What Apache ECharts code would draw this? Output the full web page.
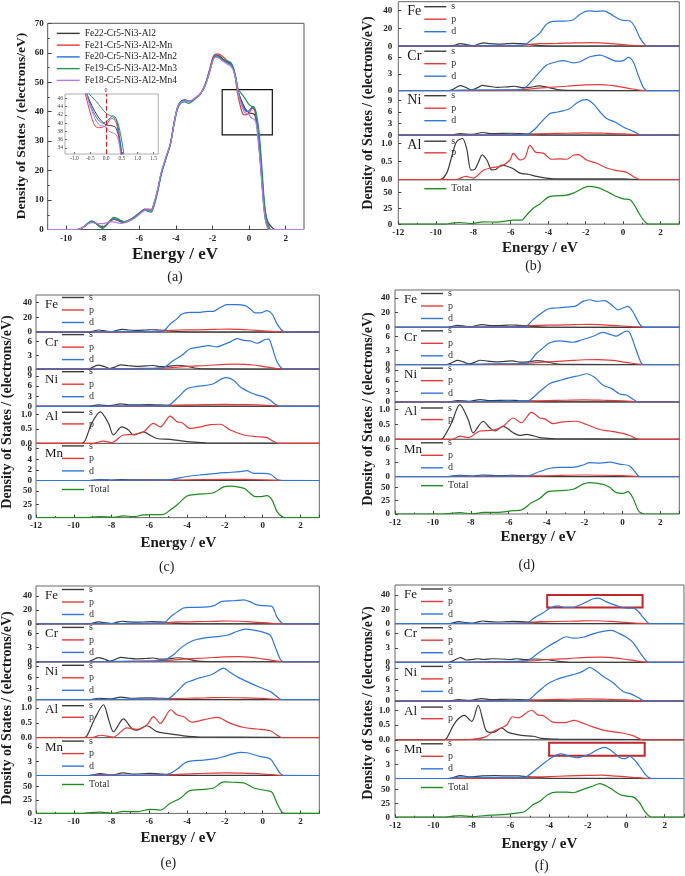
<!DOCTYPE html>
<html>
<head>
<meta charset="utf-8">
<script src="https://cdn.jsdelivr.net/npm/echarts@6/dist/echarts.min.js"></script>
<style>
  html, body { margin: 0; background: #fff; }
  #chart { width: 685px; height: 876px; }
</style>
</head>
<body>
<div id="chart"></div>
<script>
const FONT = 'Liberation Serif';
const COL = { s: '#3c3c3c', p: '#e8393a', d: '#2f76dc', Total: '#1e8c1e' };

// ---- panel (a): total DOS of the five alloys ----
const namesA = ['Fe22-Cr5-Ni3-Al2', 'Fe21-Cr5-Ni3-Al2-Mn', 'Fe20-Cr5-Ni3-Al2-Mn2', 'Fe19-Cr5-Ni3-Al2-Mn3', 'Fe18-Cr5-Ni3-Al2-Mn4'];
const colorsA = ['#3a3a3a', '#e23b3b', '#2a6fe0', '#23965a', '#b37ae8'];
const xTicksA = [-10, -8, -6, -4, -2, 0, 2];
const insetXTicks = [-1, -0.5, 0, 0.5, 1, 1.5];
const insetYTicks = [34, 36, 38, 40, 42, 44, 46];
const boxA = [[-1.47, 32.1], [1.27, 47.5]];

const a_fe22 = [[-11,0],[-9.4,0],[-9.2,0.3],[-9,1],[-8.8,2],[-8.6,2.6],[-8.4,2.2],[-8.2,1.2],[-8,0.5],[-7.8,1.4],[-7.6,2.8],[-7.4,3.4],[-7.2,3.2],[-7,2.6],[-6.8,2.4],[-6.5,3.1],[-6.2,4.4],[-5.9,5.9],[-5.7,6.7],[-5.5,6.6],[-5.35,6.4],[-5.2,8.5],[-5,13],[-4.8,19],[-4.5,25],[-4.3,29],[-4.1,36],[-3.9,41.5],[-3.7,43.5],[-3.5,44],[-3.3,43.6],[-3.1,43.8],[-2.9,44.8],[-2.7,45.7],[-2.4,49],[-2.15,54],[-1.95,58.5],[-1.8,59.3],[-1.6,58.8],[-1.4,57.7],[-1.2,57],[-1,56.2],[-0.85,54.5],[-0.7,50.5],[-0.6,47],[-0.4,43.5],[-0.2,41],[0,39.6],[0.15,39.4],[0.3,39],[0.42,36],[0.5,32],[0.6,26],[0.7,18.5],[0.8,10.5],[0.9,5.5],[1,3],[1.1,1.8],[1.25,0.7],[1.4,0],[3,0]];
const a_fe21 = [[-11,0],[-9.4,0],[-9.2,0.3],[-9,1],[-8.8,2],[-8.6,2.6],[-8.4,2.2],[-8.2,1.4],[-8,0.9],[-7.8,1.6],[-7.6,2.8],[-7.4,3.5],[-7.2,3.3],[-7,2.8],[-6.8,2.7],[-6.5,3.4],[-6.2,4.6],[-5.9,6.1],[-5.7,6.9],[-5.5,6.9],[-5.35,6.8],[-5.2,8.8],[-5,13.5],[-4.8,19],[-4.5,25],[-4.3,29],[-4.1,36],[-3.9,41.5],[-3.7,43.3],[-3.5,43.8],[-3.3,43.5],[-3.1,43.8],[-2.9,44.8],[-2.7,45.7],[-2.4,49.2],[-2.15,54.5],[-1.95,58.8],[-1.75,59.6],[-1.55,59.2],[-1.35,58.2],[-1.2,57.3],[-1,56.5],[-0.85,54.5],[-0.75,51.5],[-0.65,47],[-0.5,42.5],[-0.35,39.3],[-0.2,38.9],[0,39.5],[0.17,41.2],[0.3,40.5],[0.4,37],[0.5,31],[0.6,24],[0.7,16],[0.8,8.5],[0.9,3.5],[1,1.5],[1.15,0],[3,0]];
const a_fe20 = [[-11,0],[-9.4,0],[-9.2,0.3],[-9,1],[-8.8,2.1],[-8.6,2.7],[-8.4,2.3],[-8.2,1.3],[-8,0.6],[-7.8,1.5],[-7.6,2.9],[-7.4,3.7],[-7.2,3.4],[-7,2.8],[-6.8,2.6],[-6.5,3.3],[-6.2,4.6],[-5.9,6],[-5.7,6.8],[-5.5,6.6],[-5.35,6.3],[-5.2,8.3],[-5,13],[-4.8,19],[-4.5,25],[-4.3,29],[-4.1,36],[-3.9,41.8],[-3.7,43.6],[-3.5,43.9],[-3.3,43.3],[-3.1,43.6],[-2.9,44.7],[-2.7,45.7],[-2.4,49],[-2.15,54],[-1.95,58.3],[-1.8,59],[-1.6,58.5],[-1.4,57.3],[-1.2,56.6],[-1,55.9],[-0.85,54.3],[-0.7,50.3],[-0.6,47],[-0.45,43.5],[-0.25,40.8],[-0.1,40],[0.05,40.7],[0.22,41.8],[0.32,41],[0.42,37],[0.5,32],[0.6,25],[0.7,16.5],[0.8,8],[0.9,3],[1,1],[1.1,0],[3,0]];
const a_fe19 = [[-11,0],[-9.4,0],[-9.2,0.3],[-9,1.1],[-8.8,2.2],[-8.6,2.9],[-8.4,2.4],[-8.2,1.2],[-8,0.4],[-7.8,1.4],[-7.6,3],[-7.4,4.1],[-7.2,3.8],[-7,3],[-6.8,2.6],[-6.5,3.3],[-6.2,4.5],[-5.9,5.9],[-5.7,6.6],[-5.5,6.1],[-5.35,5.9],[-5.2,7.8],[-5,12.5],[-4.8,18.5],[-4.5,25],[-4.3,29],[-4.1,35.5],[-3.9,41],[-3.7,43],[-3.5,43.3],[-3.3,42.8],[-3.1,43.5],[-2.9,44.7],[-2.7,45.8],[-2.4,49],[-2.15,53.5],[-1.95,58],[-1.85,58.8],[-1.6,58.3],[-1.4,57.5],[-1.2,57.2],[-1,56.7],[-0.85,54.8],[-0.7,51],[-0.6,47.8],[-0.3,45.2],[0,42.4],[0.2,41.6],[0.35,40.5],[0.45,37.5],[0.55,33],[0.65,25.5],[0.75,16.5],[0.85,8.5],[0.95,3.8],[1.05,1.6],[1.2,0],[3,0]];
const a_fe18 = [[-11,0],[-9.4,0],[-9.2,0.3],[-9,1],[-8.8,1.9],[-8.6,2.3],[-8.4,2.2],[-8.2,2],[-8,2],[-7.8,2.3],[-7.6,2.6],[-7.4,2.6],[-7.2,2.3],[-7,2.1],[-6.8,2.3],[-6.5,3],[-6.2,4.1],[-5.9,5.6],[-5.7,6.5],[-5.5,6.7],[-5.35,6.6],[-5.2,8.8],[-5,13.5],[-4.8,19.5],[-4.5,25.5],[-4.3,29],[-4.1,36],[-3.9,41.5],[-3.7,43.3],[-3.5,43.6],[-3.3,43.5],[-3.1,44],[-2.9,45],[-2.7,45.8],[-2.4,48.8],[-2.15,53.5],[-1.95,57.8],[-1.8,58.5],[-1.6,58],[-1.4,57],[-1.2,56.2],[-1,55.5],[-0.85,53.8],[-0.7,50],[-0.6,46.5],[-0.45,43],[-0.25,39.8],[0,39],[0.1,38],[0.3,37.3],[0.4,35.5],[0.48,31],[0.6,23.5],[0.7,15.5],[0.8,8],[0.9,3],[1,0.8],[1.05,0],[3,0]];
const dataA = [a_fe22, a_fe21, a_fe20, a_fe19, a_fe18];

// ---- partial DOS, small s / p curves shared by panels (b)-(f) ----
const feS = [[-12,0],[-9.3,0],[-9,1],[-8.7,2.8],[-8.3,1.5],[-8,0.5],[-7.7,2.5],[-7.45,3.8],[-7.1,2.8],[-6.7,2.4],[-6.2,2.8],[-5.9,3.2],[-5.5,2.8],[-5.1,2.2],[-4.7,1.2],[-4.2,0.4],[-3.5,0.1],[3,0]];
const feP = [[-12,0],[-9,0],[-7,0.3],[-5.6,1],[-5,2],[-4.5,2.8],[-3.5,3.1],[-2.5,3.7],[-1.8,4.1],[-1.2,3.8],[-0.6,2.8],[0,1.8],[0.5,0.9],[1,0.2],[1.3,0],[3,0]];
const crS = [[-12,0],[-9.3,0],[-9,0.4],[-8.7,0.9],[-8.4,0.6],[-8.1,0.15],[-7.8,0.5],[-7.5,0.95],[-7.1,0.75],[-6.7,0.6],[-6.2,0.7],[-5.8,0.8],[-5.4,0.55],[-5,0.6],[-4.5,0.85],[-4,0.6],[-3.5,0.2],[-3,0.05],[3,0]];
const crP = [[-12,0],[-8,0],[-6,0.1],[-5,0.3],[-4,0.6],[-3,0.8],[-2,1.05],[-1.3,1.1],[-0.5,0.9],[0,0.6],[0.5,0.3],[1,0.05],[1.2,0],[3,0]];
const niS = [[-12,0],[-9.2,0],[-8.7,0.4],[-8.1,0.2],[-7.5,0.7],[-7,0.4],[-6,0.5],[-5.5,0.4],[-5,0.3],[-4.5,0.15],[-4,0.05],[3,0]];
const niP = [[-12,0],[-8,0],[-6,0.1],[-5,0.25],[-4,0.4],[-3,0.5],[-2,0.6],[-1,0.5],[0,0.35],[0.7,0.1],[1,0],[3,0]];
const f_crS = [[-12,0],[-9.2,0],[-8.9,0.5],[-8.6,1],[-8.3,0.5],[-8,0.6],[-7.7,0.75],[-7.4,0.6],[-7,0.75],[-6.5,0.7],[-6,0.6],[-5.7,0.75],[-5.3,0.6],[-4.7,0.7],[-4.2,0.6],[-3.5,0.2],[-3,0.05],[3,0]];

// ---- panel (b) ----
const b_feD = [[-12,0],[-9.3,0],[-8.7,0.4],[-8,0.2],[-7.5,0.6],[-6.5,0.5],[-5.8,0.7],[-5.3,1.2],[-4.9,7],[-4.45,14.7],[-4.1,24.5],[-3.75,27.8],[-3,28.3],[-2.65,29.8],[-2.3,35.8],[-1.86,39.6],[-1.41,39.2],[-1.06,39.6],[-0.7,36.6],[-0.26,30.9],[0,29.1],[0.37,28.3],[0.63,21.5],[0.9,9.4],[1.17,1.5],[1.35,0],[3,0]];
const b_crD = [[-12,0],[-9.3,0],[-8.7,0.1],[-7.5,0.15],[-6,0.15],[-5.35,0.3],[-4.62,2.75],[-4.08,4.6],[-3.55,5.2],[-3.19,5.4],[-2.66,5],[-2.3,5.2],[-1.77,6.1],[-1.23,6.4],[-0.88,6],[-0.35,5.3],[0.01,5.4],[0.28,6],[0.54,5.2],[0.81,2.75],[1.08,0.6],[1.26,0],[3,0]];
const b_niD = [[-12,0],[-9.3,0],[-8,0.1],[-6,0.1],[-5.15,0.2],[-4.62,2],[-4.44,3],[-3.9,5.6],[-3.5,6],[-3.2,6.3],[-2.84,6.9],[-2.4,8.6],[-1.95,9.2],[-1.59,8.1],[-1.23,6],[-0.88,4.3],[-0.43,3.4],[0.01,2.1],[0.54,1],[0.99,0],[3,0]];
const b_alS = [[-12,0],[-9.8,0],[-9.42,0.18],[-9.15,0.63],[-8.89,1.04],[-8.58,1.13],[-8.35,0.85],[-8.12,0.26],[-7.95,0.27],[-7.73,0.47],[-7.52,0.68],[-7.25,0.52],[-7.02,0.27],[-6.8,0.28],[-6.48,0.4],[-6.2,0.37],[-5.86,0.3],[-5.5,0.18],[-5.06,0.15],[-4.62,0.09],[-4.1,0.045],[-3.4,0.02],[0,0.02],[0.6,0.01],[1,0],[3,0]];
const b_alP = [[-12,0],[-9,0],[-8.8,0.02],[-8.4,0.09],[-8,0.045],[-7.46,0.26],[-7,0.33],[-6.48,0.38],[-6.04,0.54],[-5.86,0.72],[-5.5,0.54],[-5.24,0.6],[-4.97,0.94],[-4.65,0.75],[-4.26,0.73],[-3.82,0.56],[-3.37,0.57],[-3.01,0.56],[-2.66,0.67],[-2.39,0.69],[-1.95,0.54],[-1.41,0.45],[-0.88,0.32],[-0.35,0.25],[0.19,0.2],[0.54,0.09],[0.81,0.02],[1,0],[3,0]];
const b_tot = [[-12,0],[-9.5,0],[-9.06,2],[-8.7,2.7],[-8.09,1],[-7.46,3.7],[-6.75,3.2],[-6.2,5.3],[-5.86,6.4],[-5.42,6.4],[-5.15,14.4],[-4.8,25],[-4.44,31.9],[-4,42.6],[-3.64,44.7],[-3.1,45.2],[-2.66,48.9],[-2.3,54.3],[-1.86,59.6],[-1.41,58],[-1.06,54.3],[-0.7,48.9],[-0.35,43.6],[0.01,39.9],[0.37,38.3],[0.63,28.7],[0.9,14.4],[1.17,3.7],[1.35,0],[3,0]];

// ---- panel (c) ----
const c_feD = [[-12,0],[-9.3,0],[-8.7,0.4],[-7.5,0.6],[-6,0.6],[-5.3,1],[-4.89,11],[-4.54,17.8],[-4.27,24.4],[-3.83,26.5],[-3.3,26.7],[-2.95,28],[-2.6,28],[-2.24,33.3],[-1.89,36.9],[-1.36,36.9],[-0.92,35.6],[-0.65,31.1],[-0.39,25.8],[-0.12,25.8],[0.23,28.9],[0.5,24.4],[0.76,11.1],[1.03,2.2],[1.2,0],[3,0]];
const c_crD = [[-12,0],[-9.3,0],[-7,0.15],[-5.3,0.3],[-4.72,1.9],[-4.28,3],[-3.83,4.4],[-3.3,4.8],[-2.86,5.1],[-2.42,4.8],[-2.07,5.3],[-1.71,5.9],[-1.36,6.6],[-1,6.2],[-0.65,6.1],[-0.3,5.6],[0.14,6.4],[0.32,6.5],[0.5,4.8],[0.76,1.6],[1.03,0.1],[1.15,0],[3,0]];
const c_niD = [[-12,0],[-9.3,0],[-7,0.1],[-5.07,0.15],[-4.54,2.3],[-4,5.2],[-3.48,5.9],[-3,6.2],[-2.6,6.7],[-2.15,8.2],[-1.89,8.5],[-1.54,7.7],[-1.18,5.7],[-0.74,4.3],[-0.3,3.3],[0.06,2.8],[0.41,1.8],[0.67,0.6],[0.94,0],[3,0]];
const c_alS = [[-12,0],[-9.6,0],[-9.4,0.1],[-9.05,0.69],[-8.6,1.09],[-8.16,0.69],[-7.9,0.29],[-7.46,0.57],[-7.1,0.46],[-6.84,0.29],[-6.3,0.4],[-5.95,0.28],[-5.6,0.17],[-4.89,0.14],[-4,0.06],[-3,0.02],[0.5,0.01],[1,0],[3,0]];
const c_alP = [[-12,0],[-9,0],[-8.43,0.08],[-7.99,0.03],[-7.37,0.29],[-6.84,0.31],[-6.3,0.4],[-5.78,0.69],[-5.42,0.57],[-4.89,0.94],[-4.54,0.75],[-4.27,0.71],[-3.83,0.52],[-3.3,0.57],[-2.77,0.65],[-2.24,0.66],[-1.71,0.46],[-1,0.29],[-0.3,0.23],[0.23,0.2],[0.59,0.06],[0.85,0],[3,0]];
const c_mnS = [[-12,0],[-9.2,0],[-8.6,0.15],[-8,0.05],[-7.5,0.15],[-6.5,0.1],[-5.8,0.12],[-5,0.08],[-4,0.02],[3,0]];
const c_mnP = [[-12,0],[-7,0],[-5,0.05],[-3.5,0.15],[-2,0.2],[-1,0.2],[0,0.12],[0.8,0.02],[1,0],[3,0]];
const c_mnD = [[-12,0],[-9.3,0],[-8.6,0.1],[-7,0.05],[-5.07,0.1],[-4,0.75],[-3.3,1.05],[-2.42,1.36],[-1.89,1.5],[-1.18,1.67],[-0.83,1.86],[-0.47,1.36],[0.06,1.36],[0.41,1.17],[0.76,0.25],[1.03,0],[3,0]];
const c_tot = [[-12,0],[-9.5,0],[-8.6,1.9],[-7.9,0.6],[-7.37,3.1],[-6.84,1.9],[-6.3,5],[-5.25,6.2],[-4.89,14.4],[-4.54,23.8],[-4,40.6],[-3.48,43.8],[-2.6,46.9],[-2.07,58],[-1.71,59.4],[-1.18,56.9],[-0.92,53.8],[-0.65,45.6],[-0.39,39.4],[-0.12,39.4],[0.23,41.3],[0.5,33.1],[0.76,11.3],[1.03,1.9],[1.2,0],[3,0]];

// ---- panel (d) ----
const d_feD = [[-12,0],[-9.3,0],[-8.7,0.4],[-7.5,0.6],[-6,0.6],[-5.15,1],[-4.71,10.5],[-4.27,19.5],[-3.92,25],[-3.48,26.4],[-2.96,27.7],[-2.52,28.6],[-2.08,35.5],[-1.73,37.7],[-1.37,35.5],[-0.94,36.4],[-0.58,30.9],[-0.23,24],[0.03,26.4],[0.29,28.6],[0.56,20.9],[0.82,8.2],[1,1.4],[1.17,0],[3,0]];
const d_crD = [[-12,0],[-9.3,0],[-7,0.15],[-5.06,0.3],[-4.54,2.4],[-4.27,3.3],[-3.83,4.7],[-3.3,5.1],[-2.6,4.8],[-2.08,5.4],[-1.55,6.1],[-1.02,6.9],[-0.67,6.5],[-0.32,6.1],[0.21,7.2],[0.38,6.9],[0.65,4],[0.91,1.1],[1.08,0],[3,0]];
const d_niD = [[-12,0],[-9.3,0],[-7,0.1],[-5.06,0.2],[-4.36,3],[-3.83,5.3],[-3.3,6.2],[-2.78,7],[-2.25,7.6],[-1.9,8.1],[-1.46,7],[-1.02,4.8],[-0.58,3.9],[-0.15,2.3],[0.21,2],[0.56,0.8],[0.82,0],[3,0]];
const d_alS = [[-12,0],[-9.6,0],[-9.45,0.05],[-9.01,0.56],[-8.58,1.17],[-8.14,0.67],[-7.87,0.22],[-7.35,0.61],[-7,0.39],[-6.73,0.28],[-6.29,0.44],[-5.76,0.22],[-5.41,0.13],[-5.06,0.17],[-4.36,0.06],[-3.48,0.02],[0.5,0.01],[1,0],[3,0]];
const d_alP = [[-12,0],[-9,0],[-8.58,0.11],[-8.14,0.06],[-7.52,0.28],[-6.82,0.31],[-6.29,0.44],[-5.76,0.72],[-5.33,0.56],[-4.8,0.91],[-4.36,0.72],[-4.1,0.69],[-3.66,0.53],[-3.13,0.59],[-2.43,0.61],[-1.9,0.5],[-1.2,0.33],[-0.67,0.28],[0.03,0.2],[0.38,0.13],[0.73,0.02],[0.91,0],[3,0]];
const d_mnS = [[-12,0],[-9.2,0],[-8.6,0.3],[-8,0.1],[-7.4,0.35],[-6.5,0.2],[-5.8,0.3],[-5,0.15],[-4,0.05],[3,0]];
const d_mnP = [[-12,0],[-7,0],[-5,0.1],[-3.5,0.25],[-2,0.35],[-1,0.3],[0,0.2],[0.8,0.03],[1,0],[3,0]];
const d_mnD = [[-12,0],[-9.3,0],[-8.6,0.15],[-7,0.1],[-5.06,0.15],[-4.36,1.1],[-3.83,1.8],[-3.3,2],[-2.6,2],[-2.08,2.5],[-1.73,3],[-1.2,2.9],[-0.67,3.1],[-0.15,2.7],[0.38,2.3],[0.65,1.1],[0.91,0],[3,0]];
const d_tot = [[-12,0],[-9.5,0],[-8.58,2.5],[-7.87,0.3],[-7.35,3.1],[-6.64,3.1],[-5.76,6.2],[-5.33,7.5],[-4.8,21],[-4.36,29],[-3.92,42],[-3.3,43.8],[-2.6,46.3],[-2.08,56],[-1.73,58.8],[-1.02,55.6],[-0.67,50],[-0.32,40],[0.03,38.8],[0.29,41.9],[0.56,29.4],[0.82,7.5],[1,1.2],[1.17,0],[3,0]];

// ---- panel (e) ----
const e_feD = [[-12,0],[-9.3,0],[-8.7,0.4],[-7.5,0.6],[-6,0.6],[-5.25,1],[-4.9,9.6],[-4.45,18.3],[-4.19,22.6],[-3.74,23.5],[-3.13,23.9],[-2.6,25.7],[-2.15,32.2],[-1.53,33],[-1,34.3],[-0.65,31.3],[-0.3,27],[0.23,25.7],[0.5,24.8],[0.76,9.6],[1.03,0.9],[1.2,0],[3,0]];
const e_crD = [[-12,0],[-9.3,0],[-7,0.15],[-5.25,0.3],[-4.72,1.5],[-4.28,3.1],[-3.74,4.4],[-3.13,5],[-2.42,5.3],[-1.89,5.6],[-1.36,6.4],[-0.92,6.9],[-0.47,6.7],[0.06,6.2],[0.41,5.6],[0.67,3.1],[0.94,0.5],[1.12,0],[3,0]];
const e_niD = [[-12,0],[-9.3,0],[-7,0.1],[-5.07,0.2],[-4.54,2.2],[-4.1,4.5],[-3.74,5.2],[-3.3,6],[-2.77,6.7],[-2.5,7.4],[-2.07,8.6],[-1.71,7.4],[-1.27,6],[-0.65,4.5],[-0.12,3.3],[0.41,2.2],[0.76,0.8],[1.03,0],[3,0]];
const e_alS = [[-12,0],[-9.5,0],[-9.31,0.05],[-8.87,0.66],[-8.43,1.11],[-8.15,0.6],[-7.9,0.2],[-7.37,0.63],[-6.93,0.31],[-6.66,0.25],[-6.13,0.4],[-5.6,0.2],[-5.07,0.14],[-4.19,0.06],[-3.3,0.02],[0.5,0.01],[1,0],[3,0]];
const e_alP = [[-12,0],[-9,0],[-8.6,0.08],[-7.9,0.02],[-7.19,0.33],[-6.66,0.28],[-6.13,0.43],[-5.78,0.71],[-5.42,0.48],[-4.86,0.94],[-4.54,0.77],[-4.19,0.71],[-3.74,0.52],[-3.13,0.6],[-2.42,0.68],[-1.71,0.48],[-1,0.34],[-0.3,0.29],[0.41,0.23],[0.76,0.08],[1.03,0],[3,0]];
const e_mnS = [[-12,0],[-9.2,0],[-8.6,0.4],[-8,0.1],[-7.4,0.55],[-6.8,0.3],[-6,0.45],[-5.3,0.3],[-4.5,0.1],[-3.5,0.03],[3,0]];
const e_mnP = [[-12,0],[-7,0],[-5,0.15],[-3.5,0.4],[-2,0.55],[-1,0.5],[0,0.3],[0.8,0.05],[1.1,0],[3,0]];
const e_mnD = [[-12,0],[-9.3,0],[-8.6,0.2],[-7,0.1],[-5.07,0.2],[-4.54,1.3],[-4.1,2.7],[-3.74,3.1],[-3.13,3.25],[-2.42,3.6],[-1.89,4.2],[-1.18,4.9],[-0.83,4.8],[-0.12,4],[0.41,3.5],[0.67,2],[0.94,0.4],[1.12,0],[3,0]];
const e_tot = [[-12,0],[-9.5,0],[-9.31,1.2],[-8.6,2.5],[-7.9,0.6],[-7.37,3.8],[-6.66,3.1],[-5.95,7.5],[-5.42,6.2],[-4.89,18.8],[-4.36,28],[-3.83,42.5],[-3.3,43.8],[-2.6,46.9],[-2.07,58.1],[-1.54,57.5],[-1,56.3],[-0.47,46.9],[0.23,41.9],[0.5,38.8],[0.76,18.8],[1.03,1.9],[1.2,0],[3,0]];

// ---- panel (f) ----
const f_feD = [[-12,0],[-9.3,0],[-8.7,0.5],[-7.5,0.6],[-6,0.6],[-5.17,1],[-4.74,8.7],[-4.31,15.2],[-3.96,21.7],[-3.53,24.8],[-3.19,22.6],[-2.75,22.6],[-2.41,26.1],[-2.06,30.4],[-1.72,34.8],[-1.46,35.7],[-1.03,30.4],[-0.51,25.2],[0.01,21.7],[0.36,21.7],[0.62,17.4],[0.88,8.7],[1.14,0.9],[1.31,0],[3,0]];
const f_crD = [[-12,0],[-9.3,0],[-7,0.15],[-5.17,0.3],[-4.65,1.7],[-4.14,3.1],[-3.62,4.3],[-3.1,5.3],[-2.75,5],[-2.24,5.2],[-1.72,5.9],[-1.2,6.4],[-0.77,6.6],[-0.33,5.9],[0.01,5.2],[0.36,4.1],[0.7,2.1],[1.05,0.3],[1.22,0],[3,0]];
const f_niD = [[-12,0],[-9.3,0],[-7,0.15],[-5.17,0.2],[-4.65,2.2],[-4.14,4.5],[-3.62,5.9],[-3.1,6.8],[-2.58,7.5],[-2.24,8.2],[-1.89,9.2],[-1.54,8.2],[-1.2,6.8],[-0.68,5],[-0.16,2.6],[0.27,1.9],[0.7,0.75],[0.96,0],[3,0]];
const f_alS = [[-12,0],[-9.5,0],[-9.32,0.05],[-8.98,0.48],[-8.7,0.72],[-8.4,0.83],[-8.02,0.62],[-7.68,1.17],[-7.45,0.7],[-7.3,0.35],[-7.07,0.25],[-6.81,0.27],[-6.47,0.4],[-6.12,0.25],[-5.43,0.15],[-4.83,0.12],[-4.4,0.05],[-3.5,0.02],[0.5,0.01],[1,0],[3,0]];
const f_alP = [[-12,0],[-8.5,0],[-7.8,0.03],[-7.3,0.1],[-6.9,0.28],[-6.5,0.4],[-6.2,0.5],[-5.9,0.78],[-5.6,0.74],[-5.4,0.8],[-5.1,0.95],[-4.9,1],[-4.6,0.85],[-4.25,0.8],[-3.8,0.6],[-3.2,0.58],[-2.7,0.66],[-2.4,0.6],[-1.7,0.43],[-1,0.3],[-0.2,0.23],[0.35,0.14],[0.7,0.03],[0.9,0],[3,0]];
const f_mnS = [[-12,0],[-9.2,0],[-8.6,0.6],[-8.1,0.35],[-7.5,0.55],[-6.8,0.6],[-6,0.55],[-5.6,0.55],[-5,0.35],[-4.2,0.1],[-3.5,0.03],[3,0]];
const f_mnP = [[-12,0],[-7,0],[-5.5,0.15],[-4,0.4],[-3,0.55],[-2,0.65],[-1.3,0.7],[-0.5,0.5],[0.3,0.25],[0.9,0.05],[1.2,0],[3,0]];
const f_mnD = [[-12,0],[-9.3,0],[-8.6,0.3],[-7,0.2],[-5.5,0.2],[-5.17,0.4],[-4.65,2],[-4.22,3.4],[-3.79,4.6],[-3.4,5.2],[-2.93,4.7],[-2.58,4.4],[-2.24,4.7],[-1.89,5.2],[-1.46,6.2],[-1.11,6.6],[-0.77,5.9],[-0.33,4.4],[-0.07,4.2],[0.18,4.7],[0.53,3.5],[0.79,2],[1.05,0.6],[1.31,0],[3,0]];
const f_tot = [[-12,0],[-9.5,0],[-9.15,1.2],[-8.63,3],[-7.94,1.2],[-7.07,3.7],[-6.21,4.9],[-5.69,7.3],[-5.26,10.4],[-4.83,22.6],[-4.48,28.7],[-4.05,40.9],[-3.62,45.1],[-3.1,45.1],[-2.75,43.9],[-2.24,50],[-1.72,56.1],[-1.37,60.4],[-1.03,56.1],[-0.68,48.8],[-0.33,40.9],[0.01,37.8],[0.36,36.6],[0.7,25.6],[0.96,10.4],[1.22,1.2],[1.4,0],[3,0]];
const boxFe = [[-4.1, 22.6], [0.85, 40]];
const boxMn = [[-4.0, 4.8], [0.96, 7.6]];

// ---------------------------------------------------------------
const grid = [], xAxis = [], yAxis = [], series = [], legend = [], graphic = [];

function txt(x, y, text, size, opt) {
  opt = opt || {};
  graphic.push({
    type: 'text', x: x, y: y, rotation: opt.rot || 0, silent: true,
    style: { text: text, fontSize: size, fontFamily: FONT, fontWeight: opt.bold ? 'bold' : 'normal',
      fill: '#1a1a1a', align: opt.align || 'center', verticalAlign: 'middle' }
  });
}

const tickLbl = { fontFamily: FONT, fontWeight: 'bold', fontSize: 9, color: '#222' };
const noLine = { show: false, onZero: false };

// panel (a) main plot
grid.push({ left: 47.7, top: 23.3, width: 256.3, height: 206.2, show: true, borderColor: '#555', borderWidth: 1, backgroundColor: 'transparent' });
xAxis.push({ gridIndex: 0, type: 'value', min: -11, max: 3, axisLine: noLine, splitLine: { show: false },
  axisTick: { inside: true, length: 4, customValues: xTicksA, lineStyle: { color: '#444' } },
  axisLabel: Object.assign({ customValues: xTicksA, margin: 5 }, tickLbl) });
yAxis.push({ gridIndex: 0, type: 'value', min: 0, max: 70, interval: 10, axisLine: noLine, splitLine: { show: false },
  axisTick: { inside: true, length: 4, lineStyle: { color: '#444' } },
  minorTick: { show: true, splitNumber: 2, length: 2, lineStyle: { color: '#444' } },
  axisLabel: Object.assign({ margin: 4 }, tickLbl) });

// inset of panel (a)
grid.push({ left: 65, top: 94, width: 93.3, height: 60, show: true, borderColor: '#999', borderWidth: 0.8, backgroundColor: 'transparent' });
const insetLbl = { fontFamily: FONT, fontSize: 5.5, color: '#444' };
xAxis.push({ gridIndex: 1, type: 'value', min: -1.3, max: 1.65, axisLine: noLine, splitLine: { show: false },
  axisTick: { inside: true, length: 2, customValues: insetXTicks, lineStyle: { color: '#777' } },
  axisLabel: Object.assign({ customValues: insetXTicks, margin: 2, formatter: v => v.toFixed(1) }, insetLbl) });
yAxis.push({ gridIndex: 1, type: 'value', min: 32.5, max: 47.1, axisLine: noLine, splitLine: { show: false },
  axisTick: { inside: true, length: 2, customValues: insetYTicks, lineStyle: { color: '#777' } },
  axisLabel: Object.assign({ customValues: insetYTicks, margin: 2 }, insetLbl) });

dataA.forEach((d, i) => {
  const main = { type: 'line', name: namesA[i], xAxisIndex: 0, yAxisIndex: 0, data: d, symbol: 'none',
    smooth: 0.3, color: colorsA[i], lineStyle: { width: 1.2 }, z: 3 };
  if (i === 0) {
    main.markArea = { silent: true, itemStyle: { color: 'rgba(0,0,0,0)', borderColor: '#111', borderWidth: 1.2 },
      data: [[{ coord: boxA[0] }, { coord: boxA[1] }]] };
  }
  series.push(main);
  const ins = { type: 'line', name: namesA[i], xAxisIndex: 1, yAxisIndex: 1, data: d, symbol: 'none',
    smooth: 0.3, color: colorsA[i], lineStyle: { width: 1 }, z: 3 };
  if (i === 0) {
    ins.markLine = { silent: true, symbol: 'none', lineStyle: { color: '#e02020', type: 'dashed', width: 1.2 },
      label: { show: true, position: 'end', formatter: '0', fontFamily: FONT, fontSize: 6, color: '#333', distance: 1 },
      data: [{ xAxis: 0 }] };
  }
  series.push(ins);
});
legend.push({ data: namesA, orient: 'vertical', left: 56.7, top: 27.5, padding: 0, icon: 'rect', itemWidth: 23, itemHeight: 1.4, itemGap: 0,
  selectedMode: false, textStyle: { fontFamily: FONT, fontSize: 9.5, color: '#222', lineHeight: 11.75 } });
txt(22, 126, 'Density of States / (electrons/eV)', 13.5, { bold: true, rot: Math.PI / 2 });
txt(175, 255, 'Energy / eV', 17, { bold: true });
txt(175, 277, '(a)', 14);

// stacked PDOS panels
function stack(p) {
  const n = p.rows.length;
  p.rows.forEach((row, i) => {
    const g = grid.length;
    const top = p.top + i * p.rowH;
    const last = i === n - 1;
    grid.push({ left: p.left, top: top, width: p.width, height: p.rowH, show: true, borderColor: '#666', borderWidth: 1, backgroundColor: 'transparent' });
    xAxis.push({ gridIndex: g, type: 'value', min: -12, max: 3, interval: 2, axisLine: noLine, splitLine: { show: false },
      axisTick: { show: last, inside: true, length: 3, lineStyle: { color: '#444' } },
      minorTick: { show: last, splitNumber: 2, length: 1.5, lineStyle: { color: '#444' } },
      axisLabel: Object.assign({ show: last, showMaxLabel: false, margin: 4 }, tickLbl) });
    yAxis.push({ gridIndex: g, type: 'value', min: 0, max: row.max, interval: row.step, axisLine: noLine, splitLine: { show: false },
      axisTick: { inside: true, length: 3, lineStyle: { color: '#444' } },
      axisLabel: Object.assign({ showMaxLabel: false, margin: p.lblGap, formatter: row.dec ? (v => v.toFixed(1)) : (v => String(v)) }, tickLbl) });
    row.lines.forEach(([name, data]) => {
      const s = { type: 'line', name: name, xAxisIndex: g, yAxisIndex: g, data: data, symbol: 'none', smooth: 0.3,
        color: COL[name], lineStyle: { width: 1.2 }, z: 3 };
      if (row.box && name === 'd') {
        s.markArea = { silent: true, itemStyle: { color: 'rgba(0,0,0,0)', borderColor: '#c0262c', borderWidth: 2 },
          data: [[{ coord: row.box[0] }, { coord: row.box[1] }]] };
      }
      series.push(s);
    });
    const names = row.lines.map(l => l[0]);
    let off = p.legOff, pitch = 12.5;
    if (names.length === 2) { off = 6; pitch = 11.6; }
    if (names.length === 1) { off = 9; }
    legend.push({ data: names, orient: 'vertical', left: p.left + 26, top: top + off - pitch / 2, padding: 0,
      icon: 'rect', itemWidth: 22, itemHeight: 1.4, itemGap: 0, selectedMode: false,
      textStyle: { fontFamily: FONT, fontSize: 10, color: '#333', lineHeight: pitch } });
    if (row.el) txt(p.left + 9, top + 10, row.el, p.elSize, { align: 'left' });
  });
  txt(p.yName[0], p.yName[1], 'Density of States / (electrons/eV)', 14, { bold: true, rot: Math.PI / 2 });
  txt(p.xName[0], p.xName[1], 'Energy / eV', 15, { bold: true });
  txt(p.letter[0], p.letter[1], p.tag, 14);
}

stack({ tag: '(b)', left: 398.3, width: 281, top: 1.7, rowH: 44.5, elSize: 14, legOff: 5, lblGap: 6,
  yName: [368.3, 113], xName: [540, 248.3], letter: [533.3, 266.7], rows: [
  { el: 'Fe', max: 50, step: 20, lines: [['s', feS], ['p', feP], ['d', b_feD]] },
  { el: 'Cr', max: 8, step: 3, lines: [['s', crS], ['p', crP], ['d', b_crD]] },
  { el: 'Ni', max: 11.5, step: 3, lines: [['s', niS], ['p', niP], ['d', b_niD]] },
  { el: 'Al', max: 1.22, step: 0.5, dec: true, lines: [['s', b_alS], ['p', b_alP]] },
  { el: null, max: 70, step: 25, lines: [['Total', b_tot]] }] });

stack({ tag: '(c)', left: 36, width: 283.3, top: 295, rowH: 37.1, elSize: 13, legOff: 2.5, lblGap: 4,
  yName: [7.5, 412], xName: [178.3, 543.3], letter: [166.7, 567], rows: [
  { el: 'Fe', max: 50, step: 20, lines: [['s', feS], ['p', feP], ['d', c_feD]] },
  { el: 'Cr', max: 8, step: 3, lines: [['s', crS], ['p', crP], ['d', c_crD]] },
  { el: 'Ni', max: 11, step: 3, lines: [['s', niS], ['p', niP], ['d', c_niD]] },
  { el: 'Al', max: 1.28, step: 0.5, dec: true, lines: [['s', c_alS], ['p', c_alP]] },
  { el: 'Mn', max: 7, step: 2, lines: [['s', c_mnS], ['p', c_mnP], ['d', c_mnD]] },
  { el: null, max: 70, step: 25, lines: [['Total', c_tot]] }] });

stack({ tag: '(d)', left: 395, width: 284.3, top: 290, rowH: 37.33, elSize: 13, legOff: 3.5, lblGap: 5,
  yName: [368.3, 409], xName: [538.3, 536.7], letter: [526.7, 565], rows: [
  { el: 'Fe', max: 51, step: 20, lines: [['s', feS], ['p', feP], ['d', d_feD]] },
  { el: 'Cr', max: 8, step: 3, lines: [['s', crS], ['p', crP], ['d', d_crD]] },
  { el: 'Ni', max: 10.7, step: 3, lines: [['s', niS], ['p', niP], ['d', d_niD]] },
  { el: 'Al', max: 1.26, step: 0.5, dec: true, lines: [['s', d_alS], ['p', d_alP]] },
  { el: 'Mn', max: 8, step: 3, lines: [['s', d_mnS], ['p', d_mnP], ['d', d_mnD]] },
  { el: null, max: 70, step: 25, lines: [['Total', d_tot]] }] });

stack({ tag: '(e)', left: 36, width: 283.3, top: 586, rowH: 37.9, elSize: 13, legOff: 3.5, lblGap: 4,
  yName: [7.5, 708], xName: [178.3, 838.3], letter: [168.3, 863.3], rows: [
  { el: 'Fe', max: 54, step: 20, lines: [['s', feS], ['p', feP], ['d', e_feD]] },
  { el: 'Cr', max: 8, step: 3, lines: [['s', crS], ['p', crP], ['d', e_crD]] },
  { el: 'Ni', max: 10.3, step: 3, lines: [['s', niS], ['p', niP], ['d', e_niD]] },
  { el: 'Al', max: 1.28, step: 0.5, dec: true, lines: [['s', e_alS], ['p', e_alP]] },
  { el: 'Mn', max: 8, step: 3, lines: [['s', e_mnS], ['p', e_mnP], ['d', e_mnD]] },
  { el: null, max: 70, step: 25, lines: [['Total', e_tot]] }] });

stack({ tag: '(f)', left: 395, width: 289, top: 585, rowH: 38.7, elSize: 13, legOff: 4, lblGap: 5,
  yName: [368.3, 703], xName: [539.3, 844], letter: [541.7, 866.7], rows: [
  { el: 'Fe', max: 54, step: 20, box: boxFe, lines: [['s', feS], ['p', feP], ['d', f_feD]] },
  { el: 'Cr', max: 8, step: 3, lines: [['s', f_crS], ['p', crP], ['d', f_crD]] },
  { el: 'Ni', max: 10.6, step: 3, lines: [['s', niS], ['p', niP], ['d', f_niD]] },
  { el: 'Al', max: 1.31, step: 0.5, dec: true, lines: [['s', f_alS], ['p', f_alP]] },
  { el: 'Mn', max: 8.2, step: 3, box: boxMn, lines: [['s', f_mnS], ['p', f_mnP], ['d', f_mnD]] },
  { el: null, max: 69.5, step: 25, lines: [['Total', f_tot]] }] });

const chart = echarts.init(document.getElementById('chart'));
chart.setOption({
  animation: false,
  backgroundColor: '#fff',
  textStyle: { fontFamily: FONT },
  grid, xAxis, yAxis, series, legend, graphic
});
</script>
</body>
</html>
